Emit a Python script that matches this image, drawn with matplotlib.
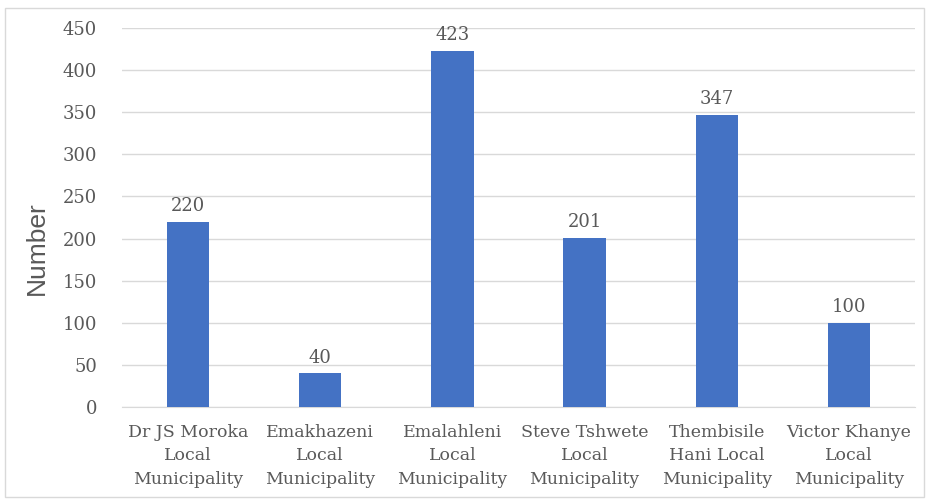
import matplotlib
matplotlib.use("Agg")
import matplotlib.pyplot as plt
from matplotlib.patches import Rectangle

# data
municipalities = [
    "Dr JS Moroka\nLocal\nMunicipality",
    "Emakhazeni\nLocal\nMunicipality",
    "Emalahleni\nLocal\nMunicipality",
    "Steve Tshwete\nLocal\nMunicipality",
    "Thembisile\nHani Local\nMunicipality",
    "Victor Khanye\nLocal\nMunicipality",
]
counts = [220, 40, 423, 201, 347, 100]
y_ticks = [0, 50, 100, 150, 200, 250, 300, 350, 400, 450]

bar_color = "#4472C4"
text_color = "#595959"
grid_color = "#D9D9D9"

fig = plt.figure(figsize=(9.29, 4.99), dpi=100)
ax = fig.add_axes([0.1313, 0.1844, 0.8537, 0.7595])

x = range(len(counts))
ax.bar(x, counts, width=0.32, color=bar_color, zorder=3)

# value labels above bars
for xi, v in zip(x, counts):
    ax.text(xi, v + 8, str(v), ha="center", va="bottom",
            fontsize=13, color=text_color, family="DejaVu Serif")

ax.set_xlim(-0.5, len(counts) - 0.5)
ax.set_ylim(0, 450)
ax.set_yticks(y_ticks)
ax.set_yticklabels([str(t) for t in y_ticks], family="DejaVu Serif",
                   fontsize=13, color=text_color)
ax.set_xticks(list(x))
ax.set_xticklabels(municipalities, family="DejaVu Serif", fontsize=12.5,
                   color=text_color, linespacing=1.5)

ax.grid(axis="y", color=grid_color, linewidth=1, zorder=0)
ax.tick_params(axis="x", length=0, pad=12)
ax.tick_params(axis="y", length=0, pad=18)
for side in ["top", "right", "left"]:
    ax.spines[side].set_visible(False)
ax.spines["bottom"].set_color(grid_color)

ax.set_ylabel("Number", fontsize=19, color=text_color, family="Liberation Sans")
ax.yaxis.set_label_coords(-0.092, 0.42)

# chart border
fig.patches.append(Rectangle((0.005, 0.004), 0.99, 0.98, transform=fig.transFigure,
                             fill=False, edgecolor=grid_color, linewidth=1))

fig.savefig("out.png", dpi=100)
